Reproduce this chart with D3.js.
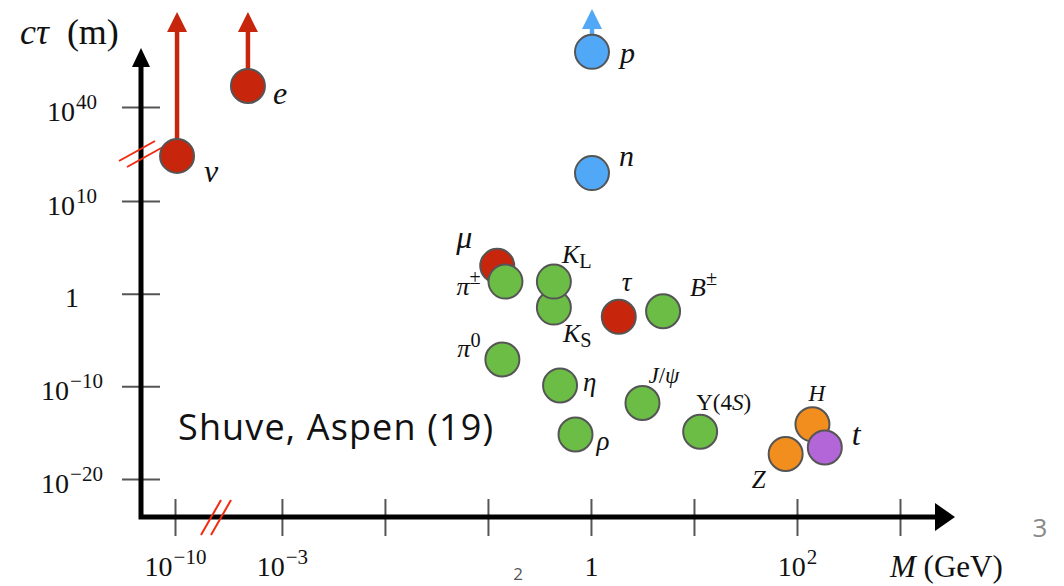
<!DOCTYPE html>
<html>
<head>
<meta charset="utf-8">
<script src="https://cdn.jsdelivr.net/npm/d3@7"></script>
<style>
  body { margin: 0; background: #fff; }
  svg { display: block; }
</style>
</head>
<body>
<div id="chart"></div>
<script>
// particle data: log10 of mass (GeV) and log10 of c*tau (m)
const particles = ['nu', 'e', 'p', 'n', 'mu', 'piPM', 'KS', 'KL', 'tau', 'B', 'pi0', 'eta', 'Jpsi', 'rho', 'Ups', 'H', 'Z', 't']
const logMass = [-9.98, -3.33, 0.01, 0.01, -0.91, -0.83, -0.36, -0.36, 0.27, 0.70, -0.86, -0.30, 0.50, -0.15, 1.06, 2.15, 1.89, 2.27]
const logCtau = [24.4, 46.7, 57.6, 18.9, 3.0, 1.3, -1.5, 1.3, -2.5, -1.9, -7.1, -9.9, -11.8, -15.2, -14.9, -14.1, -17.3, -16.6]
const kinds = ['lepton', 'lepton', 'nucleon', 'nucleon', 'lepton', 'meson', 'meson', 'meson', 'lepton', 'meson', 'meson', 'meson', 'meson', 'meson', 'meson', 'boson', 'boson', 'top']

// stable particles get an arrow pointing up
const stableParticles = ['nu', 'e', 'p']
const stableArrowTo = [70.3, 70.3, 71.3]

// labels as [text, style] pieces: i = italic, r = roman, sup / sub
const labels = [
  [['ν', 'i']], [['e', 'i']], [['p', 'i']], [['n', 'i']], [['μ', 'i']],
  [['π', 'i'], ['±', 'sup']], [['K', 'i'], ['S', 'sub']], [['K', 'i'], ['L', 'sub']],
  [['τ', 'i']], [['B', 'i'], ['±', 'sup']], [['π', 'i'], ['0', 'sup']], [['η', 'i']],
  [['J', 'i'], ['/', 'r'], ['ψ', 'i']], [['ρ', 'i']], [['Υ(4', 'r'], ['S', 'i'], [')', 'r']],
  [['H', 'i']], [['Z', 'i']], [['t', 'i']]
]

const xTicks = [-10, -3, -2, -1, 0, 1, 2, 3]
const xTickLabels = [['10', '−10'], ['10', '−3'], null, null, ['1', ''], null, ['10', '2'], null]
const yTicks = [-20, -10, 0, 10, 40]
const yTickLabels = [['10', '−20'], ['10', '−10'], ['1', ''], ['10', '10'], ['10', '40']]

/**
 * Layout and style
 */
const width = 1064
const height = 586
const serif = "'Liberation Serif', 'DejaVu Serif', serif"
const sans = "'Open Sans', 'Noto Sans', sans-serif"
const colors = { lepton: '#c8260c', meson: '#6cbd45', nucleon: '#50a8f6', boson: '#f28e1e', top: '#b366d8' }
const radius = 17

// label offset from the circle centre [dx, dy, font size]
const labelLayout = {
  nu: [27, 26, 32], e: [25, 18, 32], p: [28, 11, 30], n: [27, -7, 30], mu: [-41, -18, 32],
  piPM: [-49, 13, 26], KS: [9, 34, 26], KL: [8, -19, 26], tau: [3, -26, 27], B: [27, -15, 26],
  pi0: [-45, -2, 26], eta: [23, 6, 27], Jpsi: [6, -20, 23], rho: [21, 15, 27], Ups: [-4, -22, 23],
  H: [-4, -23, 23], Z: [-34, 34, 25], t: [27, -2, 32]
}

// broken axes: piecewise linear scales on log10 values
const xScale = d3.scaleLinear().domain([-10, -9.6, -3.64, 3]).range([175, 216, 216, 900])
const yScale = d3.scaleLinear().domain([-20, 10, 40]).range([479, 201, 107])

const axisX = 141
const axisY = 517

const svg = d3.select('#chart').append('svg')
  .attr('width', width)
  .attr('height', height)

/**
 * Writes pieces of math text into a text selection, using tspans.
 */
function appendMath (text, pieces, size) {
  let shift = 0
  pieces.forEach(([s, k]) => {
    const target = k === 'sup' ? -0.42 * size : k === 'sub' ? 0.22 * size : 0
    text.append('tspan')
      .attr('dy', target - shift)
      .attr('font-size', (k === 'sup' || k === 'sub') ? size * 0.78 : size)
      .attr('font-style', k === 'i' ? 'italic' : 'normal')
      .text(s)
    shift = target
  })
}

/**
 * Writes a tick label such as 10^-10.
 */
function tickLabel (t, lab) {
  t.append('tspan').attr('font-size', 28).text(lab[0])
  if (lab[1]) {
    t.append('tspan').attr('font-size', 21).attr('dy', -12).attr('dx', 1).text(lab[1])
  }
}

// ticks on the y axis (centred on the axis line)
const yAxis = svg.append('g')
  .attr('transform', 'translate(' + (axisX + 19) + ',0)')
  .call(d3.axisLeft(yScale).tickValues(yTicks).tickSize(38).tickFormat(''))
yAxis.select('.domain').remove()
yAxis.selectAll('.tick line').attr('stroke', '#555').attr('stroke-width', 2)
yAxis.selectAll('.tick text').remove()
yAxis.selectAll('.tick').each(function (d, i) {
  const t = d3.select(this).append('text')
    .attr('x', -88)
    .attr('y', 13)
    .attr('text-anchor', 'middle')
    .attr('font-family', serif)
    .attr('fill', '#111')
  tickLabel(t, yTickLabels[i])
})

// ticks on the x axis
const xAxis = svg.append('g')
  .attr('transform', 'translate(0,' + (axisY - 18) + ')')
  .call(d3.axisBottom(xScale).tickValues(xTicks).tickSize(37).tickFormat(''))
xAxis.select('.domain').remove()
xAxis.selectAll('.tick line').attr('stroke', '#555').attr('stroke-width', 2)
xAxis.selectAll('.tick text').remove()
xAxis.selectAll('.tick').each(function (d, i) {
  const lab = xTickLabels[i]
  if (!lab) return
  const t = d3.select(this).append('text')
    .attr('x', 0)
    .attr('y', 77)
    .attr('text-anchor', 'middle')
    .attr('font-family', serif)
    .attr('fill', '#111')
  tickLabel(t, lab)
})

// axis lines and arrow heads
svg.append('path')
  .attr('d', 'M' + axisX + ',66 V' + axisY + ' H937')
  .attr('fill', 'none')
  .attr('stroke', '#000')
  .attr('stroke-width', 5)
svg.append('path')
  .attr('d', 'M' + axisX + ',48 L' + (axisX + 9) + ',67 L' + (axisX - 9) + ',67 Z')
  .attr('fill', '#000')
svg.append('path')
  .attr('d', 'M955,' + axisY + ' L935,' + (axisY - 14) + ' L935,' + (axisY + 14) + ' Z')
  .attr('fill', '#000')

// axis break marks
const yBreak = yScale(25)
;[[-4, -3], [4, 3]].forEach(([ox, oy]) => {
  svg.append('line')
    .attr('x1', axisX + ox - 18).attr('y1', yBreak + oy + 10)
    .attr('x2', axisX + ox + 18).attr('y2', yBreak + oy - 10)
    .attr('stroke', '#f22a10').attr('stroke-width', 2)
})
const xBreak = xScale(-9.6)
;[-5, 5].forEach(ox => {
  svg.append('line')
    .attr('x1', xBreak + ox - 10).attr('y1', axisY + 18)
    .attr('x2', xBreak + ox + 10).attr('y2', axisY - 17)
    .attr('stroke', '#f22a10').attr('stroke-width', 2)
})

// axis titles
const yTitle = svg.append('text').attr('x', 20).attr('y', 44).attr('font-family', serif).attr('fill', '#111')
appendMath(yTitle, [['cτ', 'i'], ['\u00a0\u00a0(m)', 'r']], 36)
const xTitle = svg.append('text').attr('x', 890).attr('y', 577).attr('font-family', serif).attr('fill', '#111')
appendMath(xTitle, [['M', 'i'], ['\u00a0(GeV)', 'r']], 31)

// arrows for stable particles
stableParticles.forEach((name, i) => {
  const k = particles.indexOf(name)
  const x = xScale(logMass[k])
  const tip = yScale(stableArrowTo[i])
  const c = colors[kinds[k]]
  svg.append('line')
    .attr('x1', x).attr('x2', x)
    .attr('y1', yScale(logCtau[k])).attr('y2', tip + 18)
    .attr('stroke', c).attr('stroke-width', 4.5)
  svg.append('path')
    .attr('d', 'M' + x + ',' + tip + ' L' + (x + 10) + ',' + (tip + 20) + ' L' + (x - 10) + ',' + (tip + 20) + ' Z')
    .attr('fill', c)
})

// particles
svg.selectAll('circle.particle')
  .data(particles)
  .join('circle')
  .attr('class', 'particle')
  .attr('cx', (d, i) => xScale(logMass[i]))
  .attr('cy', (d, i) => yScale(logCtau[i]))
  .attr('r', radius)
  .attr('fill', (d, i) => colors[kinds[i]])
  .attr('stroke', '#555')
  .attr('stroke-width', 2)

// particle labels
particles.forEach((name, i) => {
  const [dx, dy, size] = labelLayout[name]
  const t = svg.append('text')
    .attr('x', xScale(logMass[i]) + dx)
    .attr('y', yScale(logCtau[i]) + dy)
    .attr('font-family', serif)
    .attr('fill', '#111')
  appendMath(t, labels[i], size)
})

// reference note and slide leftovers
svg.append('text')
  .attr('x', 178).attr('y', 440)
  .attr('font-family', sans)
  .attr('font-size', 36)
  .attr('textLength', 315)
  .attr('lengthAdjust', 'spacing')
  .attr('fill', '#111')
  .text('Shuve, Aspen (19)')
svg.append('text')
  .attr('x', 518).attr('y', 580)
  .attr('text-anchor', 'middle')
  .attr('font-family', sans)
  .attr('font-size', 17)
  .attr('fill', '#555')
  .text('2')
svg.append('text')
  .attr('x', 1040).attr('y', 537)
  .attr('text-anchor', 'middle')
  .attr('font-family', sans)
  .attr('font-size', 26)
  .attr('fill', '#888')
  .text('3')
</script>
</body>
</html>
